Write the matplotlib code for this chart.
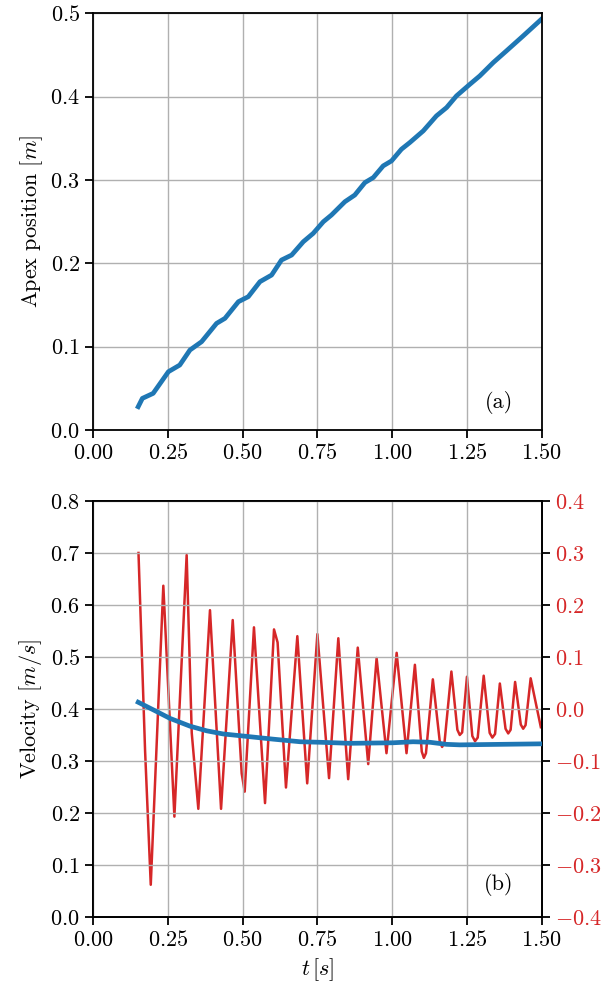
import numpy as np
import matplotlib
matplotlib.use('Agg')
import matplotlib.pyplot as plt

plt.rcParams['font.family'] = 'serif'
plt.rcParams['font.serif'] = ['cmr10']
plt.rcParams['mathtext.fontset'] = 'cm'
plt.rcParams['axes.formatter.use_mathtext'] = True
plt.rcParams['font.size'] = 16

# ─── Data ────────────────────────────────────────────────────────────────────
# (a) apex position
t_apex = [0.151, 0.165, 0.201, 0.252, 0.290, 0.324, 0.363, 0.413, 0.441,
          0.486, 0.519, 0.558, 0.597, 0.630, 0.664, 0.703, 0.736, 0.770,
          0.797, 0.842, 0.875, 0.909, 0.937, 0.970, 0.998, 1.031, 1.059,
          1.104, 1.148, 1.182, 1.215, 1.260, 1.293, 1.338, 1.382, 1.438,
          1.499]
apex = [0.028, 0.038, 0.044, 0.070, 0.078, 0.096, 0.106, 0.128, 0.134,
        0.154, 0.160, 0.178, 0.186, 0.204, 0.210, 0.226, 0.236, 0.250,
        0.258, 0.274, 0.282, 0.297, 0.303, 0.317, 0.323, 0.337, 0.345,
        0.359, 0.377, 0.387, 0.401, 0.415, 0.425, 0.441, 0.455, 0.473,
        0.493]

# (b) mean velocity (left axis)
t_vel = [0.151, 0.213, 0.257, 0.324, 0.380, 0.435, 0.502, 0.602, 0.692,
         0.758, 0.859, 1.003, 1.070, 1.126, 1.182, 1.226, 1.360, 1.500]
vel = [0.413, 0.395, 0.382, 0.367, 0.358, 0.352, 0.348, 0.342, 0.337,
       0.336, 0.334, 0.335, 0.337, 0.336, 0.332, 0.331, 0.332, 0.333]

# (b) oscillating component (right axis)
t_osc = [0.152, 0.174, 0.193, 0.235, 0.272, 0.313, 0.330, 0.352, 0.391,
         0.428, 0.467, 0.497, 0.507, 0.538, 0.575, 0.605, 0.617, 0.645,
         0.683, 0.716, 0.750, 0.789, 0.820, 0.853, 0.885, 0.920, 0.948,
         0.981, 1.015, 1.048, 1.076, 1.099, 1.106, 1.113, 1.136, 1.159,
         1.167, 1.175, 1.198, 1.218, 1.226, 1.234, 1.250, 1.268, 1.277,
         1.286, 1.306, 1.326, 1.335, 1.344, 1.360, 1.379, 1.388, 1.396,
         1.411, 1.430, 1.438, 1.446, 1.463, 1.497]
osc = [0.300, -0.080, -0.338, 0.237, -0.207, 0.296, -0.046, -0.192, 0.190,
       -0.192, 0.171, -0.124, -0.159, 0.157, -0.181, 0.153, 0.128, -0.151,
       0.140, -0.143, 0.144, -0.133, 0.136, -0.135, 0.118, -0.106, 0.098,
       -0.085, 0.108, -0.085, 0.085, -0.082, -0.094, -0.085, 0.057, -0.062,
       -0.073, -0.064, 0.072, -0.040, -0.050, -0.045, 0.062, -0.052, -0.062,
       -0.055, 0.064, -0.046, -0.055, -0.048, 0.049, -0.038, -0.047, -0.040,
       0.052, -0.030, -0.038, -0.031, 0.059, -0.035]

BLUE = '#1f77b4'
RED = '#d62728'
GRID = dict(color='#b0b0b0', lw=1.0)


def style(ax):
    for s in ax.spines.values():
        s.set_linewidth(1.3)
    ax.tick_params(width=1.3, length=6)


fig = plt.figure(figsize=(6.08, 9.92), dpi=100)

# ─── (a) ─────────────────────────────────────────────────────────────────────
ax1 = fig.add_axes([0.153, 0.5665, 0.738, 0.420])
ax1.plot(t_apex, apex, color=BLUE, lw=3.4, solid_joinstyle='round')
ax1.set_xlim(0, 1.5)
ax1.set_ylim(0, 0.5)
ax1.set_xticks(np.arange(0, 1.51, 0.25))
ax1.set_yticks(np.arange(0, 0.51, 0.1))
ax1.grid(True, **GRID)
ax1.set_ylabel(r'Apex position $[m]$')
ax1.text(0.905, 0.065, '(a)', transform=ax1.transAxes, ha='center', va='center')
style(ax1)

# ─── (b) ─────────────────────────────────────────────────────────────────────
ax2 = fig.add_axes([0.153, 0.0756, 0.738, 0.4194])
ax2.plot(t_vel, vel, color=BLUE, lw=3.4, zorder=3)
ax2.set_xlim(0, 1.5)
ax2.set_ylim(0, 0.8)
ax2.set_xticks(np.arange(0, 1.51, 0.25))
ax2.set_yticks(np.arange(0, 0.81, 0.1))
ax2.grid(True, **GRID)
ax2.set_ylabel(r'Velocity $[m/s]$')
ax2.set_xlabel(r'$t\,[s]$')
ax2.text(0.905, 0.077, '(b)', transform=ax2.transAxes, ha='center', va='center')
style(ax2)

ax3 = ax2.twinx()
ax3.plot(t_osc, osc, color=RED, lw=1.8, solid_joinstyle='round')
ax3.set_ylim(-0.4, 0.4)
ax3.set_yticks(np.arange(-0.4, 0.41, 0.1))
ax3.tick_params(axis='y', labelcolor=RED)
style(ax3)
ax2.set_zorder(ax3.get_zorder() + 1)
ax2.patch.set_visible(False)

fig.savefig('out.png', dpi=100)
